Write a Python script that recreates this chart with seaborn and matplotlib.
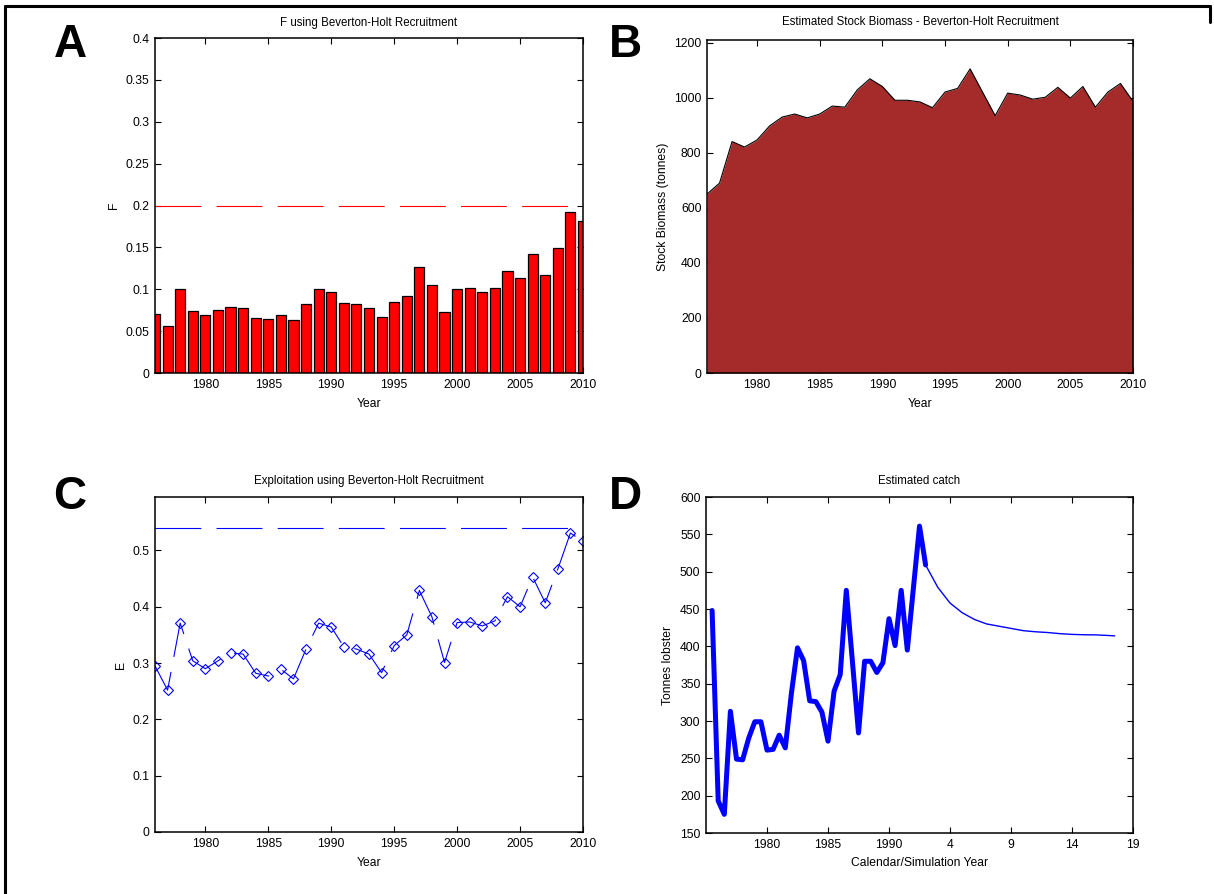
import numpy as np
import pandas as pd
import matplotlib
matplotlib.use("Agg")
import matplotlib.pyplot as plt
from matplotlib.lines import Line2D
import seaborn as sns

# ---- data ----
years = list(range(1976, 2011))

f_values = [0.0705, 0.0566, 0.1008, 0.0741, 0.0693, 0.0753, 0.0789, 0.0781, 0.0657,
            0.0645, 0.0693, 0.0633, 0.0825, 0.1000, 0.0972, 0.0833, 0.0825, 0.0777,
            0.0669, 0.0845, 0.0916, 0.1267, 0.1056, 0.0729, 0.1008, 0.1020, 0.0972,
            0.1020, 0.1223, 0.1135, 0.1418, 0.1171, 0.1490, 0.1920, 0.1817]
f_ref = 0.2

biomass = [650, 690, 841, 821, 847, 898, 930, 941, 927, 941, 970, 966, 1029, 1069,
           1041, 991, 991, 985, 964, 1021, 1034, 1105, 1020, 935, 1017, 1010, 995,
           1002, 1038, 999, 1041, 966, 1021, 1052, 987]

exploitation = [0.295, 0.252, 0.371, 0.304, 0.290, 0.304, 0.318, 0.316, 0.282, 0.277,
                0.289, 0.272, 0.325, 0.371, 0.364, 0.329, 0.325, 0.316, 0.283, 0.331,
                0.350, 0.429, 0.382, 0.301, 0.372, 0.373, 0.366, 0.375, 0.418, 0.400,
                0.453, 0.407, 0.467, 0.531, 0.516]
e_ref = 0.54
ref_end = 2009

catch_years = [1975.5, 1976.0, 1976.5, 1977.0, 1977.5, 1978.0, 1978.5, 1979.0, 1979.5,
               1980.0, 1980.5, 1981.0, 1981.5, 1982.0, 1982.5, 1983.0, 1983.5, 1984.0,
               1984.5, 1985.0, 1985.5, 1986.0, 1986.5, 1987.0, 1987.5, 1988.0, 1988.5,
               1989.0, 1989.5, 1990.0, 1990.5, 1991.0, 1991.5, 1992.0, 1992.5, 1993.0]
catch_obs = [448, 193, 175, 313, 249, 248, 277, 299, 299, 261, 262, 281, 264, 337, 398,
             381, 327, 326, 312, 273, 340, 362, 475, 380, 284, 380, 380, 365, 378, 437,
             401, 475, 395, 478, 561, 509]

sim_years = [1993, 1994, 1995, 1996, 1997, 1998, 1999, 2000, 2001, 2002, 2003, 2004,
             2005, 2006, 2007, 2008, 2008.5]
catch_sim = [509, 479, 458, 445, 436, 430, 427, 424, 421, 419.5, 418.5, 417, 416,
             415.5, 415.3, 414.5, 414]

year_ticks = [1980, 1985, 1990, 1995, 2000, 2005, 2010]
d_tick_labels = ["1980", "1985", "1990", "4", "9", "14", "19"]

# ---- style ----
sns.set_style("ticks")
plt.rcParams["font.family"] = ["Liberation Sans", "DejaVu Sans"]
plt.rcParams["lines.scale_dashes"] = False
for key in ["text.color", "axes.labelcolor", "xtick.color", "ytick.color",
            "xtick.labelcolor", "ytick.labelcolor", "axes.edgecolor"]:
    plt.rcParams[key] = "black"
dash_pat = (33, 11)

W, H = 1214, 894
fig = plt.figure(figsize=(W / 100, H / 100), dpi=100)


def px_axes(l, t, r, b):
    return fig.add_axes([l / W, 1 - b / H, (r - l) / W, (b - t) / H])


def style(ax):
    ax.tick_params(direction="in", top=True, right=True, length=4, width=0.8,
                   labelsize=8.7, colors="black", pad=4)
    for s in ax.spines.values():
        s.set_visible(True)
        s.set_linewidth(1.1)
        s.set_color("black")


tfs = 8.3
lfs = 8.7
xpad = 5

# A: F bars
axA = px_axes(155, 38, 583, 373)
sns.barplot(x=years, y=f_values, native_scale=True, color="red", saturation=1,
            edgecolor="black", linewidth=0.9, width=0.8, ax=axA)
axA.plot([years[0], ref_end], [f_ref, f_ref], color="red", lw=0.8, dashes=dash_pat)
axA.set_xlim(1976, 2010)
axA.set_ylim(0, 0.4)
axA.set_xticks(year_ticks)
axA.set_xticklabels([str(y) for y in year_ticks])
axA.set_yticks([0, 0.05, 0.1, 0.15, 0.2, 0.25, 0.3, 0.35, 0.4])
axA.set_yticklabels(["0", "0.05", "0.1", "0.15", "0.2", "0.25", "0.3", "0.35", "0.4"])
axA.set_title("F using Beverton-Holt Recruitment", fontsize=tfs, pad=9)
axA.set_xlabel("Year", fontsize=lfs, labelpad=xpad)
axA.set_ylabel("F", fontsize=lfs)
style(axA)

# B: biomass area
axB = px_axes(707, 40, 1133, 373)
axB.fill_between(years, biomass, color="#A52A2A", lw=0)
sns.lineplot(x=years, y=biomass, color="black", lw=0.8, ax=axB)
axB.set_xlim(1976, 2010)
axB.set_ylim(0, 1210)
axB.set_xticks(year_ticks)
axB.set_xticklabels([str(y) for y in year_ticks])
axB.set_yticks([0, 200, 400, 600, 800, 1000, 1200])
axB.set_yticklabels(["0", "200", "400", "600", "800", "1000", "1200"])
axB.set_title("Estimated Stock Biomass - Beverton-Holt Recruitment", fontsize=tfs, pad=11)
axB.set_xlabel("Year", fontsize=lfs, labelpad=xpad)
axB.set_ylabel("Stock Biomass (tonnes)", fontsize=lfs)
style(axB)

# C: exploitation
axC = px_axes(155, 497, 583, 832)
sns.lineplot(x=years, y=exploitation, color="blue", lw=0.8, marker="D", ms=5.5,
             mfc="none", mec="blue", mew=0.8, ax=axC)
axC.lines[-1].set_dashes(dash_pat)
axC.plot([years[0], ref_end], [e_ref, e_ref], color="blue", lw=0.8, dashes=dash_pat)
axC.set_xlim(1976, 2010)
axC.set_ylim(0, 0.595)
axC.set_xticks(year_ticks)
axC.set_xticklabels([str(y) for y in year_ticks])
axC.set_yticks([0, 0.1, 0.2, 0.3, 0.4, 0.5])
axC.set_yticklabels(["0", "0.1", "0.2", "0.3", "0.4", "0.5"])
axC.set_title("Exploitation using Beverton-Holt Recruitment", fontsize=tfs, pad=9)
axC.set_xlabel("Year", fontsize=lfs, labelpad=xpad)
axC.set_ylabel("E", fontsize=lfs)
style(axC)

# D: catch
axD = px_axes(706, 497, 1133, 833)
sns.lineplot(x=catch_years, y=catch_obs, color="blue", lw=3.6, sort=False, ax=axD,
             solid_joinstyle="round", solid_capstyle="round")
sns.lineplot(x=sim_years, y=catch_sim, color="blue", lw=1.0, sort=False, ax=axD)
axD.set_xlim(1975, 2010)
axD.set_ylim(150, 600)
axD.set_xticks(year_ticks)
axD.set_xticklabels(d_tick_labels)
axD.set_yticks(list(range(150, 601, 50)))
axD.set_yticklabels([str(v) for v in range(150, 601, 50)])
axD.set_title("Estimated catch", fontsize=tfs, pad=9)
axD.set_xlabel("Calendar/Simulation Year", fontsize=lfs, labelpad=xpad)
axD.set_ylabel("Tonnes lobster", fontsize=lfs)
style(axD)

# panel letters
for lab, x, y in [("A", 70, 45), ("B", 625, 45), ("C", 70, 497), ("D", 625, 497)]:
    fig.text(x / W, 1 - y / H, lab, fontsize=33, fontweight="heavy", ha="center",
             va="center", color="black")

# outer frame (top, left, right edges)
lw_frame = 2.2
fig.add_artist(Line2D([5 / W, 1210 / W], [1 - 6 / H, 1 - 6 / H], color="black",
                      lw=lw_frame, transform=fig.transFigure))
fig.add_artist(Line2D([5 / W, 5 / W], [1 - 6 / H, 0], color="black",
                      lw=lw_frame, transform=fig.transFigure))
fig.add_artist(Line2D([1210 / W, 1210 / W], [1 - 6 / H, 1 - 22 / H], color="black",
                      lw=lw_frame, transform=fig.transFigure))

fig.savefig("out.png", dpi=100)
